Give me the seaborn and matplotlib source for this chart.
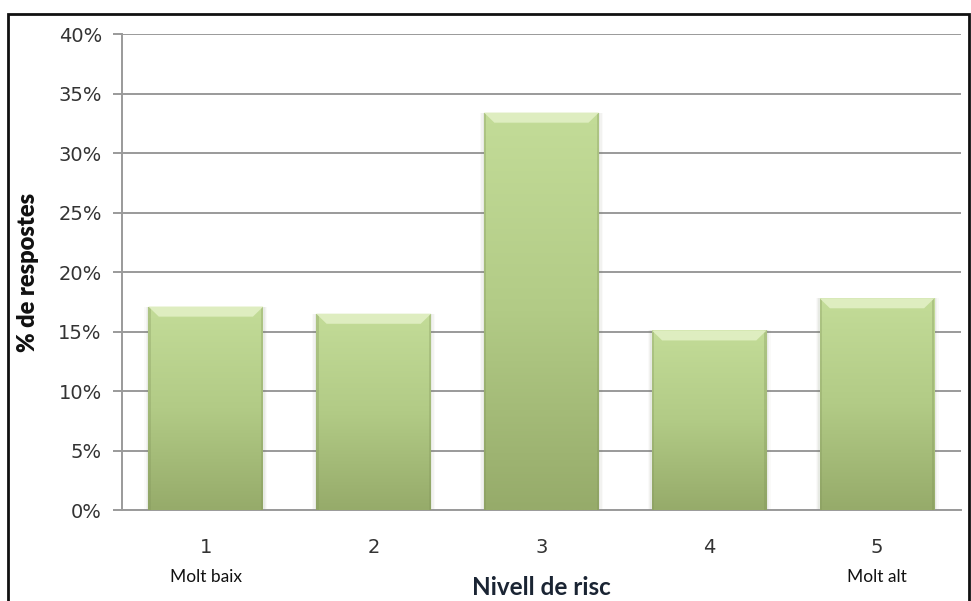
import numpy as np
import pandas as pd
import matplotlib
matplotlib.use("Agg")
import matplotlib.pyplot as plt
import matplotlib.transforms as mtransforms
from matplotlib.patches import Polygon, Rectangle
from matplotlib.colors import LinearSegmentedColormap
from matplotlib.ticker import MultipleLocator, FuncFormatter
import seaborn as sns

# Risk level categories and share of answers (%)
levels = ["1", "2", "3", "4", "5"]
shares = [17.1, 16.5, 33.4, 15.1, 17.8]
end_labels = {"1": "Molt baix", "5": "Molt alt"}

df = pd.DataFrame({"nivell": levels, "percent": shares})

sns.set_theme(style="white")
plt.rcParams["font.family"] = ["DejaVu Sans"]

fig = plt.figure(figsize=(9.71, 6.01), dpi=100)
ax = fig.add_axes([0.1256, 0.1514, 0.864, 0.792])

sns.barplot(data=df, x="nivell", y="percent", ax=ax, color="#b5cf8a",
            width=0.685, saturation=1, zorder=3, edgecolor="none")

ax.set_ylim(0, 40)
ax.set_xlim(-0.5, len(levels) - 0.5)
ax.yaxis.set_major_locator(MultipleLocator(5))
ax.yaxis.set_major_formatter(FuncFormatter(lambda v, _: f"{v:.0f}%"))
ax.grid(axis="y", color="#9a9a9a", linewidth=1.4, zorder=0)
ax.grid(axis="x", visible=False)

for side in ("top", "right"):
    ax.spines[side].set_visible(False)
for side in ("left", "bottom"):
    ax.spines[side].set_color("#9a9a9a")
    ax.spines[side].set_linewidth(1.4)

ax.tick_params(axis="y", which="major", length=6.5, width=1.4, color="#9a9a9a",
               labelsize=14, labelcolor="#333333", pad=8, left=True)
ax.tick_params(axis="x", length=0, labelsize=14, labelcolor="#333333", pad=20)

# Gradient fill, bevelled top and soft side shading for each bar
cmap = LinearSegmentedColormap.from_list("greens", ["#c3dc98", "#b2cb86", "#96ab6a"])
grad = np.linspace(0, 1, 256).reshape(-1, 1)
dx = 0.062
dy = 0.85
for patch in list(ax.patches):
    x0, y0 = patch.get_x(), patch.get_y()
    w, h = patch.get_width(), patch.get_height()
    x1, top = x0 + w, y0 + h
    # faint shadow along the sides
    for k, a in enumerate([0.07, 0.05, 0.03]):
        off = 0.008 * (k + 1)
        ax.add_patch(Rectangle((x0 - off, 0), w + 2 * off, top,
                               facecolor="#6a7550", alpha=a, edgecolor="none", zorder=2))
    im = ax.imshow(grad, cmap=cmap, aspect="auto", extent=(x0, x1, 0, top),
                   origin="upper", zorder=3.5, interpolation="bilinear")
    im.set_clip_path(patch)
    # darker side edges
    ax.add_patch(Rectangle((x0, 0), 0.014, top, facecolor="#7f9258", alpha=0.3,
                           edgecolor="none", zorder=3.6))
    ax.add_patch(Rectangle((x1 - 0.014, 0), 0.014, top, facecolor="#7f9258", alpha=0.3,
                           edgecolor="none", zorder=3.6))
    # bevel on the top face
    ax.add_patch(Polygon([(x0, top), (x1, top), (x1 - dx, top - dy), (x0 + dx, top - dy)],
                         closed=True, facecolor="#deedc0", edgecolor="none", zorder=3.7))

ax.set_ylabel("% de respostes", fontsize=17, fontweight="heavy", color="#111111",
              family=["Lato", "DejaVu Sans"], labelpad=14)
ax.set_xlabel("Nivell de risc", fontsize=17.5, fontweight="bold", color="#1a2433",
              family=["Lato", "DejaVu Sans"], labelpad=14)

trans = mtransforms.blended_transform_factory(ax.transData, fig.transFigure)
for i, lvl in enumerate(levels):
    if lvl in end_labels:
        ax.text(i, 1 - 577 / 601, end_labels[lvl], transform=trans, ha="center",
                va="center", fontsize=12.5, color="#111111", family=["Lato", "DejaVu Sans"])

# Chart border
fig.patches.append(Rectangle((8 / 971, -0.01), 961 / 971, 1 - 14 / 601 + 0.01,
                             transform=fig.transFigure, fill=False,
                             edgecolor="#111111", linewidth=2, zorder=10))

fig.savefig("out.png", dpi=100)
